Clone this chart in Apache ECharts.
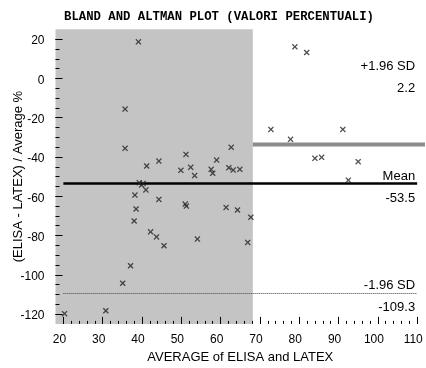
<!DOCTYPE html>
<html>
<head>
<meta charset="utf-8">
<script src="https://cdn.jsdelivr.net/npm/echarts@6/dist/echarts.min.js"></script>
<style>html,body{margin:0;padding:0;background:#fff;}#c{width:426px;height:368px;}</style>
</head>
<body>
<div id="c"></div>
<script>
// ---- data ----
const chartTitle = 'BLAND AND ALTMAN PLOT (VALORI PERCENTUALI)';
const xTitle = 'AVERAGE of ELISA and LATEX';
const yTitle = '(ELISA - LATEX) / Average %';
const xTickLabels = [20, 30, 40, 50, 60, 70, 80, 90, 100, 110];
const yTickLabels = [-120, -100, -80, -60, -40, -20, 0, 20];
const xMinorTicks = [20,22,24,26,28,30,32,34,36,38,40,42,44,46,48,50,52,54,56,58,60,62,64,66,68,70,72,74,76,78,80,82,84,86,88,90,92,94,96,98,100,102,104,106,108,110];
const yMinorTicks = [-120,-115,-110,-105,-100,-95,-90,-85,-80,-75,-70,-65,-60,-55,-50,-45,-40,-35,-30,-25,-20,-15,-10,-5,0,5,10,15,20];
const averages = [39.1, 35.7, 35.7, 41.2, 44.3, 39.3, 39.9, 41.0, 38.2, 44.3, 38.5, 38.0, 42.2, 43.7, 45.6,
  51.2, 62.7, 59.0, 49.9, 52.4, 53.4, 57.6, 58.0, 62.1, 63.2, 64.9, 51.0, 51.3, 61.4, 64.3, 67.7, 54.1, 66.9,
  37.1, 35.1, 30.8, 20.3, 78.9, 81.9, 72.8, 77.8, 91.1, 84.0, 85.7, 95.0, 92.5, 40.3];
const differences = [18.6, -15.6, -35.6, -44.6, -42.1, -53.1, -54.3, -56.8, -59.4, -61.6, -66.5, -72.6, -78.1, -80.7, -85.2,
  -38.7, -35.1, -41.6, -46.8, -45.3, -49.5, -46.3, -48.3, -45.5, -46.7, -46.3, -64.0, -65.0, -65.7, -67.0, -70.7, -81.8, -83.5,
  -95.4, -104.3, -118.3, -119.8, 16.1, 13.2, -26.0, -31.0, -26.0, -40.7, -40.2, -42.4, -51.8, -53.5];
const limitNames = ['+1.96 SD', 'Mean', '-1.96 SD'];
const limitValues = [2.2, -53.5, -109.3];
const shadedX = [18, 68.2];
const shadedY = [-125, 25];
const barX = [68.2, 112];
const barY = -33.7;

const points = averages.map((a, i) => [a, differences[i]]);
const FONT = '"Liberation Sans", Arial, sans-serif';
const xShape = 'path://M0,1.5 L1.5,0 L5,3.5 L8.5,0 L10,1.5 L6.5,5 L10,8.5 L8.5,10 L5,6.5 L1.5,10 L0,8.5 L3.5,5 Z';

const hidden = {color: 'rgba(0,0,0,0)', width: 0};
const lineStyles = [
  hidden,
  {color: '#000', width: 2.5, type: 'solid'},
  {color: '#444', width: 1, type: [1, 1]}
];
const markData = [];
limitNames.forEach((n, i) => {
  const v = limitValues[i];
  markData.push([
    {coord: [xTickLabels[0], v], lineStyle: lineStyles[i],
     label: {show: true, position: 'insideEndTop', formatter: n, distance: [2, 1], color: '#000', fontFamily: FONT, fontSize: 13}},
    {coord: [xTickLabels[xTickLabels.length - 1], v]}
  ]);
  markData.push([
    {coord: [xTickLabels[0], v], lineStyle: hidden,
     label: {show: true, position: 'insideEndBottom', formatter: String(v), distance: [2, 8], color: '#000', fontFamily: FONT, fontSize: 13}},
    {coord: [xTickLabels[xTickLabels.length - 1], v]}
  ]);
});

const noLine = {show: false, onZero: false};
const chart = echarts.init(document.getElementById('c'), null, {renderer: 'canvas'});
chart.setOption({
  animation: false,
  backgroundColor: '#fff',
  title: {
    text: chartTitle, left: 64, top: 10, padding: 0,
    textStyle: {fontFamily: '"Liberation Mono", "Courier New", monospace', fontWeight: 'bold', fontSize: 12.3, color: '#000', lineHeight: 13}
  },
  grid: {left: 55.5, right: 1, top: 29.3, bottom: 44.1, containLabel: false, outerBoundsMode: 'none'},
  xAxis: [
    {type: 'value', min: 18, max: 112, z: 4, axisLine: noLine, splitLine: {show: false},
     axisTick: {show: true, inside: true, length: 7, customValues: xTickLabels, lineStyle: {color: '#000', width: 1}},
     axisLabel: {show: false}},
    {type: 'value', min: 18, max: 112, z: 4, position: 'bottom', axisLine: noLine, splitLine: {show: false},
     axisTick: {show: true, inside: true, length: 3, customValues: xMinorTicks, lineStyle: {color: '#000', width: 1}},
     axisLabel: {show: false}},
    {type: 'value', min: 19, max: 113, z: 4, position: 'bottom', axisLine: noLine, splitLine: {show: false},
     axisTick: {show: false},
     axisLabel: {show: true, customValues: xTickLabels, margin: 10, color: '#000', fontFamily: FONT, fontSize: 12},
     name: xTitle, nameLocation: 'middle', nameGap: 27, nameMoveOverlap: false,
     nameTextStyle: {color: '#000', fontFamily: FONT, fontSize: 13}}
  ],
  yAxis: [
    {type: 'value', min: -125, max: 25, z: 4, position: 'left', axisLine: noLine, splitLine: {show: false},
     axisTick: {show: true, inside: true, length: 7, customValues: yTickLabels, lineStyle: {color: '#000', width: 1}},
     axisLabel: {show: false}},
    {type: 'value', min: -125, max: 25, z: 4, position: 'left', axisLine: noLine, splitLine: {show: false},
     axisTick: {show: true, inside: true, length: 4, customValues: yMinorTicks, lineStyle: {color: '#000', width: 1}},
     axisLabel: {show: false}},
    {type: 'value', min: -124, max: 26, z: 4, position: 'left', axisLine: noLine, splitLine: {show: false},
     axisTick: {show: false},
     axisLabel: {show: true, customValues: yTickLabels, margin: 11, color: '#000', fontFamily: FONT, fontSize: 12},
     name: yTitle, nameLocation: 'middle', nameGap: 31, nameMoveOverlap: false,
     nameTextStyle: {color: '#000', fontFamily: FONT, fontSize: 13}}
  ],
  series: [
    {
      type: 'line', data: [], z: 0, silent: true,
      markArea: {silent: true, itemStyle: {color: '#c4c4c4'},
        data: [[{coord: [shadedX[0], shadedY[0]]}, {coord: [shadedX[1], shadedY[1]]}]]}
    },
    {
      type: 'line', data: [[barX[0], barY], [barX[1], barY]], z: 1, silent: true,
      showSymbol: false, symbol: 'none', lineStyle: {color: '#8c8c8c', width: 4}
    },
    {
      type: 'line', data: [], z: 2, silent: true,
      markLine: {silent: true, symbol: 'none', animation: false, data: markData}
    },
    {
      type: 'scatter', data: points, z: 5,
      symbol: xShape, symbolSize: 6,
      itemStyle: {color: '#222'}
    }
  ]
});
</script>
</body>
</html>
